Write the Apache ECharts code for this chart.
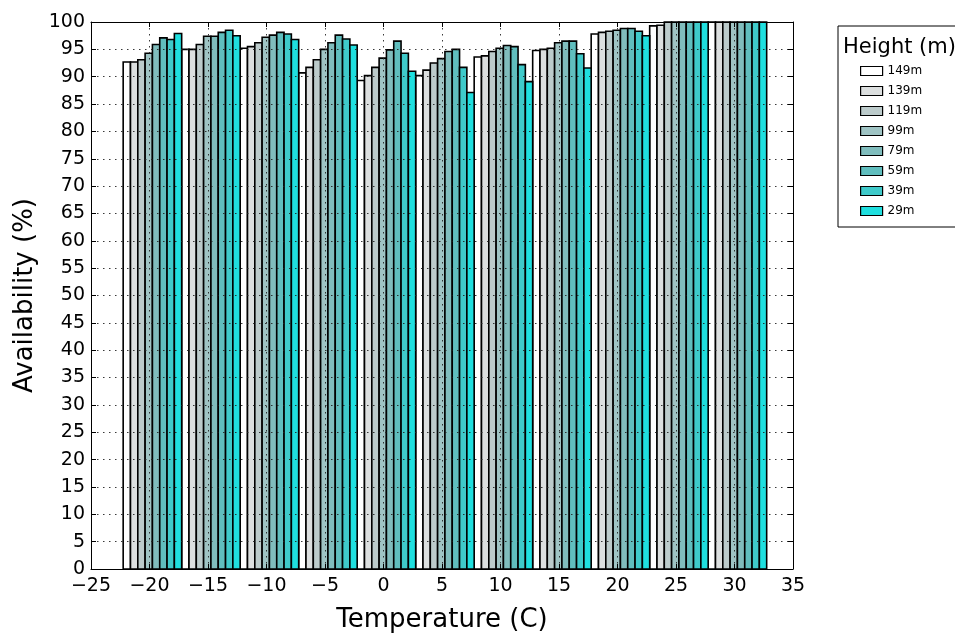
<!DOCTYPE html>
<html>
<head>
<meta charset="utf-8">
<script src="https://cdn.jsdelivr.net/npm/echarts@6/dist/echarts.min.js"></script>
<style>
  html, body { margin: 0; padding: 0; background: #fff; }
  #chart { width: 955px; height: 637px; }
</style>
</head>
<body>
<div id="chart"></div>
<script>
// 温度分组 (组中心)
const temps = [-20, -15, -10, -5, 0, 5, 10, 15, 20, 25, 30];
// 各高度可用率 (%)
const h149 = [92.7, 95.0, 95.2, 90.7, 89.3, 90.2, 93.6, 94.8, 97.8, 99.3, 100];
const h139 = [92.7, 95.0, 95.5, 91.7, 90.2, 91.2, 93.8, 95.0, 98.1, 99.4, 100];
const h119 = [93.1, 95.9, 96.2, 93.1, 91.7, 92.5, 94.6, 95.2, 98.3, 100, 100];
const h99 = [94.3, 97.4, 97.2, 95.0, 93.4, 93.3, 95.2, 96.2, 98.5, 100, 100];
const h79 = [95.9, 97.4, 97.6, 96.2, 94.9, 94.6, 95.7, 96.5, 98.8, 100, 100];
const h59 = [97.1, 98.1, 98.1, 97.6, 96.5, 95.0, 95.5, 96.5, 98.8, 100, 100];
const h39 = [96.8, 98.5, 97.8, 96.9, 94.3, 91.7, 92.2, 94.2, 98.3, 100, 100];
const h29 = [97.9, 97.5, 96.8, 95.8, 91.0, 87.1, 89.1, 91.6, 97.5, 100, 100];
const heightNames = ['149m', '139m', '119m', '99m', '79m', '59m', '39m', '29m'];
const heightColors = ['#ffffff', '#dcdfdf', '#bccbcb', '#9fc4c4', '#80bdbd', '#60bebe', '#3fcaca', '#1fdfdf'];
const xTicks = [-25, 35, 5];
const yTicks = [0, 100, 5];

const seriesValues = [h149, h139, h119, h99, h79, h59, h39, h29];
const barW = 0.625;   // 每根柱子宽度 (温度单位)
const groupOffset = -2.25; // 组内第一根柱子相对中心的偏移

const font = 'DejaVu Sans';
const minus = (v) => String(v).replace('-', '\u2212');

const chart = echarts.init(document.getElementById('chart'), null, { renderer: 'canvas' });

const axisCommon = {
  axisLine: { show: true, onZero: false, lineStyle: { color: '#000', width: 1 } },
  axisTick: { show: true, inside: true, length: 5, lineStyle: { color: '#000' } },
};
// 网格虚线
const gridLine = { show: true, lineStyle: { color: '#222', type: [1.5, 4.5], width: 0.9 } };

const series = seriesValues.map((vals, i) => ({
  name: heightNames[i],
  type: 'custom',
  itemStyle: { color: heightColors[i], borderColor: '#000', borderWidth: 1.5 },
  encode: { x: 0, y: 1 },
  data: temps.map((t, k) => [t, vals[k]]),
  renderItem(params, api) {
    const t = api.value(0);
    const x0 = t + groupOffset + i * barW;
    const p0 = api.coord([x0, api.value(1)]);
    const p1 = api.coord([x0 + barW, 0]);
    return {
      type: 'rect',
      shape: { x: p0[0], y: p0[1], width: p1[0] - p0[0], height: p1[1] - p0[1] },
      style: { fill: heightColors[i], stroke: '#000', lineWidth: 1.6 },
    };
  },
}));

chart.setOption({
  backgroundColor: '#fff',
  animation: false,
  textStyle: { fontFamily: font },
  grid: { left: 91, right: 162, top: 22, bottom: 68, outerBoundsMode: 'none' },
  title: {
    text: 'Height (m)',
    left: 838,
    top: 32,
    textStyle: { fontFamily: font, fontSize: 21, fontWeight: 'normal', color: '#000' },
  },
  legend: {
    orient: 'vertical',
    left: 838,
    top: 26,
    padding: [39, 60, 10, 22],
    itemWidth: 22,
    itemHeight: 9,
    itemGap: 8,
    borderColor: '#000',
    borderWidth: 1,
    icon: 'rect',
    data: heightNames,
    textStyle: { fontFamily: font, fontSize: 12, color: '#000' },
    itemStyle: { borderColor: '#000', borderWidth: 1.2 },
  },
  xAxis: [
    Object.assign({
      type: 'value',
      min: xTicks[0], max: xTicks[1], interval: xTicks[2],
      z: 5,
      name: 'Temperature (C)',
      nameLocation: 'middle',
      nameGap: 38,
      nameTextStyle: { fontFamily: font, fontSize: 26, color: '#000' },
      axisLabel: { color: '#000', fontSize: 19, margin: 8, formatter: minus },
      splitLine: gridLine,
    }, axisCommon),
    Object.assign({
      type: 'value', position: 'top',
      min: xTicks[0], max: xTicks[1], interval: xTicks[2],
      z: 5,
      axisLabel: { show: false },
      splitLine: { show: false },
    }, axisCommon),
  ],
  yAxis: [
    Object.assign({
      type: 'value',
      min: yTicks[0], max: yTicks[1], interval: yTicks[2],
      z: 5,
      name: 'Availability (%)',
      nameLocation: 'middle',
      nameGap: 53,
      nameTextStyle: { fontFamily: font, fontSize: 26, color: '#000' },
      axisLabel: { color: '#000', fontSize: 19, margin: 6 },
      splitLine: gridLine,
    }, axisCommon),
    Object.assign({
      type: 'value', position: 'right',
      min: yTicks[0], max: yTicks[1], interval: yTicks[2],
      z: 5,
      axisLabel: { show: false },
      splitLine: { show: false },
    }, axisCommon),
  ],
  series,
});
</script>
</body>
</html>
